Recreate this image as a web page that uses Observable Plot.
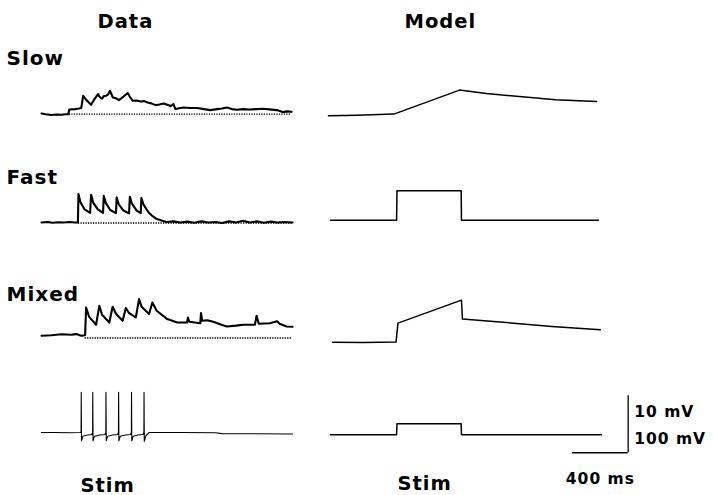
<!DOCTYPE html>
<html><head><meta charset="utf-8">
<script src="https://cdn.jsdelivr.net/npm/d3@7"></script>
<script src="https://cdn.jsdelivr.net/npm/@observablehq/plot@0.6"></script>
<style>
html,body{margin:0;padding:0;background:#fff;}
#chart svg text{letter-spacing:1px;}
</style></head><body><div id="chart"></div><script>
// ---- categories ----
const columns = ["Data", "Model"];
const rows = ["Slow", "Fast", "Mixed", "Stim"];

// ---- traces: [time (ms), voltage (display mV)] ----
const slowData = [[0,0.23],[30,0.1],[71,-0.05],[110,0.05],[143,0],[175,0.1],[193,0.09],[200,0.93],[240,1.0],[270,1.1],[286,1.18],
  [300,3.33],[330,2.4],[357,1.75],[380,2.7],[407,3.63],[420,3.1],[436,2.86],[450,3.3],[464,3.33],[480,3.6],[493,4.21],[514,3.04],
  [535,2.9],[557,2.58],[590,3.2],[621,3.81],[640,3.0],[657,2.46],[685,2.5],[714,2.33],[740,2.4],[764,2.16],[790,2.0],[821,1.70],
  [850,1.8],[879,1.98],[905,1.75],[929,1.53],[950,1.88],[964,1.0],[990,1.15],[1021,1.28],[1070,1.2],[1121,1.18],[1170,1.0],
  [1214,0.82],[1264,1.0],[1300,1.1],[1336,1.28],[1370,1.0],[1407,0.88],[1450,1.0],[1500,0.93],[1550,1.0],[1593,1.05],[1640,0.95],
  [1693,0.82],[1736,0.47],[1770,0.6],[1800,0.53]];

const fastData = [[0,-0.3],[40,-0.2],[80,-0.35],[120,-0.25],[160,-0.3],[200,-0.2],[240,-0.3],[262,-0.3],
  [266,4.7],[280,3.3],[310,2.0],[350,1.4],
  [357,4.55],[372,3.2],[405,2.0],[443,1.4],
  [448,4.4],[463,3.1],[495,1.9],[536,1.35],
  [541,4.1],[556,2.9],[590,1.8],[630,1.3],
  [636,4.2],[651,3.0],[685,1.8],[714,1.35],
  [719,4.0],[735,2.8],[770,1.5],[800,0.8],[830,0.3],[870,0.0],[900,-0.2],[950,-0.1],[1000,-0.3],[1050,-0.15],[1100,-0.35],
  [1150,-0.1],[1200,-0.3],[1250,-0.2],[1300,-0.4],[1350,-0.1],[1400,-0.3],[1450,0.0],[1500,-0.3],[1550,-0.1],[1600,-0.35],
  [1650,-0.15],[1700,-0.3],[1750,-0.2],[1807,-0.3]];

const mixedData = [[0,-1.58],[71,-1.49],[143,-1.32],[214,-1.4],[250,-1.28],[286,-1.58],[314,-1.49],
  [321,3.39],[343,1.75],[393,0.35],
  [416,3.68],[436,2.1],[488,0.75],
  [512,3.51],[536,2.28],[584,1.05],
  [607,3.28],[629,2.46],[679,1.63],
  [702,4.86],[721,3.51],[774,2.23],
  [798,4.26],[829,2.81],[905,1.35],[976,0.75],[1048,0.75],[1054,1.63],[1064,0.88],[1143,0.61],[1148,2.4],[1157,1.05],
  [1193,1.14],[1236,0.88],[1290,0.4],[1334,0.05],[1400,0.2],[1452,0.35],[1536,0.35],[1548,1.93],[1564,0.53],[1643,0.61],
  [1696,0.96],[1714,0.53],[1764,0.05],[1807,0.0]];

const stimData = [[0,0.05],[100,0.05],[200,0.0],[280,0.05],
  [285,0.2],[286,7.1],[288,-1.4],[298,-0.6],[330,-0.4],[362,-0.3],[368,0.1],
  [369,7.1],[371,-1.4],[381,-0.6],[420,-0.4],[457,-0.3],[463,0.1],
  [464,7.1],[466,-1.4],[476,-0.6],[512,-0.4],[548,-0.3],[554,0.1],
  [555,7.1],[557,-1.4],[567,-0.6],[605,-0.4],[641,-0.3],[647,0.1],
  [648,7.1],[650,-1.4],[660,-0.6],[695,-0.4],[731,-0.3],[737,0.1],
  [738,7.1],[740,-1.5],[752,-0.5],[775,0.05],[1000,0.05],[1250,0.0],[1300,-0.15],[1807,-0.2]];

const slowModel = [[0,-0.18],[200,-0.1],[471,0.12],[943,4.33],[1136,3.74],[1636,2.63],[1929,2.33]];
const fastModel = [[14,0.09],[490,0.09],[493,5.26],[955,5.26],[957,0.09],[1943,0.09]];
const mixedModel = [[29,-2.72],[250,-2.75],[486,-2.68],[500,0.65],[957,4.68],[964,1.35],[1279,0.75],[1607,0.05],[1957,-0.53]];
const stimModel = [[14,-0.35],[490,-0.35],[493,1.58],[955,1.58],[957,-0.35],[1964,-0.35]];

// dotted resting-level references under the recorded traces: [row, level, start, end]
const restLines = [["Slow",0.12,200,1800],["Fast",-0.4,266,1807],["Mixed",-1.98,314,1807]];

// scale bar values
const scaleBar = {ms: 400, mV: 10, stimMv: 100, t: 1757, v: -3.5};

// ---- build table ----
const traces = [
  {col:"Data", row:"Slow", kind:"rec", pts: slowData},
  {col:"Data", row:"Fast", kind:"rec", pts: fastData},
  {col:"Data", row:"Mixed", kind:"rec", pts: mixedData},
  {col:"Data", row:"Stim", kind:"stim", pts: stimData},
  {col:"Model", row:"Slow", kind:"model", pts: slowModel},
  {col:"Model", row:"Fast", kind:"model", pts: fastModel},
  {col:"Model", row:"Mixed", kind:"model", pts: mixedModel},
  {col:"Model", row:"Stim", kind:"model", pts: stimModel}
];
const table = traces.flatMap((tr, i) => tr.pts.map(([t, v]) => ({id: i, col: tr.col, row: tr.row, kind: tr.kind, t, v})));
const restTable = restLines.map(([row, v, t1, t2]) => ({col: "Data", row, v, t1, t2}));

const F = "DejaVu Sans";
function label(text, col, row, o) {
  return Plot.text([text], {text: d => d, fx: () => col, fy: () => row, textAnchor: "start", lineAnchor: "bottom",
    fontFamily: F, fontWeight: "bold", fill: "black", ...o});
}

const plot = Plot.plot({
  width: 713, height: 495,
  marginLeft: 40, marginRight: 110.6, marginTop: 62.7, marginBottom: 8.3,
  x: {domain: [0, 1965], axis: null},
  y: {domain: [-9.6, 9], axis: null},
  fx: {domain: columns, padding: 0.0472, axis: null},
  fy: {domain: rows, padding: 0, axis: null},
  style: {fontFamily: F, background: "white", overflow: "visible"},
  marks: [
    Plot.ruleY(restTable, {y: "v", x1: "t1", x2: "t2", fx: "col", fy: "row", stroke: "black", strokeWidth: 1.4, strokeDasharray: "1.3,1.2"}),
    Plot.line(table.filter(d => d.kind === "rec"), {x: "t", y: "v", z: "id", fx: "col", fy: "row", stroke: "black", strokeWidth: 2.1, strokeLinejoin: "round"}),
    Plot.line(table.filter(d => d.kind === "stim"), {x: "t", y: "v", z: "id", fx: "col", fy: "row", stroke: "black", strokeWidth: 1.1}),
    Plot.line(table.filter(d => d.kind === "model"), {x: "t", y: "v", z: "id", fx: "col", fy: "row", stroke: "black", strokeWidth: 1.5}),
    // column titles
    label("Data", "Data", "Slow", {frameAnchor: "top-left", dx: 56, dy: -35.5, fontSize: 19.5}),
    label("Model", "Model", "Slow", {frameAnchor: "top-left", dx: 76, dy: -35.5, fontSize: 19.5}),
    // row labels
    label("Slow", "Data", "Slow", {frameAnchor: "top-left", dx: -35, dy: 1.6, fontSize: 20}),
    label("Fast", "Data", "Fast", {frameAnchor: "top-left", dx: -35, dy: 14.8, fontSize: 20}),
    label("Mixed", "Data", "Mixed", {frameAnchor: "top-left", dx: -35, dy: 25.5, fontSize: 20}),
    // bottom stim labels
    label("Stim", "Data", "Stim", {frameAnchor: "bottom-left", dx: 39, dy: 4, fontSize: 19.5}),
    label("Stim", "Model", "Stim", {frameAnchor: "bottom-left", dx: 69, dy: 2, fontSize: 19.5}),
    // scale bar
    Plot.ruleY([scaleBar], {y: d => d.v, x1: d => d.t, x2: d => d.t + d.ms, fx: () => "Model", fy: () => "Stim", stroke: "black", strokeWidth: 1.3}),
    Plot.ruleX([scaleBar], {x: d => d.t + d.ms, y1: d => d.v, y2: d => d.v + d.mV, fx: () => "Model", fy: () => "Stim", stroke: "black", strokeWidth: 1.3}),
    Plot.text([scaleBar], {x: d => d.t + d.ms, y: d => d.v + d.mV, text: d => `${d.mV} mV`, fx: () => "Model", fy: () => "Stim",
      dx: 6, dy: 21.7, textAnchor: "start", lineAnchor: "bottom", fontFamily: F, fontWeight: "bold", fontSize: 15.5}),
    Plot.text([scaleBar], {x: d => d.t + d.ms, y: d => d.v, text: d => `${d.stimMv} mV`, fx: () => "Model", fy: () => "Stim",
      dx: 6, dy: -8.7, textAnchor: "start", lineAnchor: "bottom", fontFamily: F, fontWeight: "bold", fontSize: 15.5}),
    Plot.text([scaleBar], {x: d => d.t + d.ms / 2, y: d => d.v, text: d => `${d.ms} ms`, fx: () => "Model", fy: () => "Stim",
      dy: 31.3, textAnchor: "middle", lineAnchor: "bottom", fontFamily: F, fontWeight: "bold", fontSize: 15.5})
  ]
});
document.getElementById("chart").appendChild(plot);
</script></body></html>
